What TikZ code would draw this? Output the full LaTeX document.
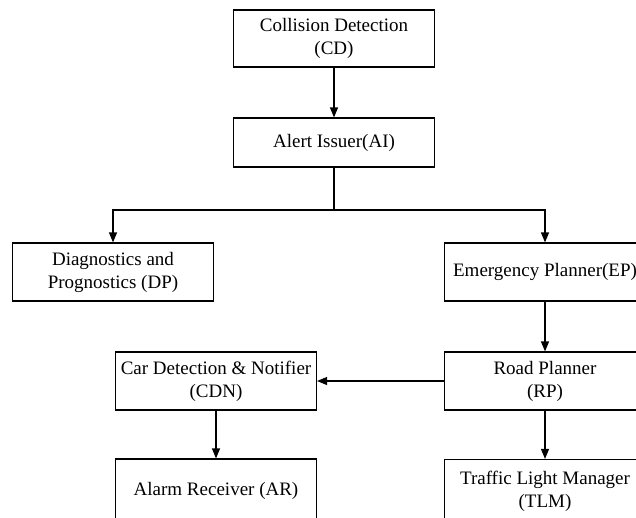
\documentclass[tikz,border=0pt]{standalone}
\usepackage{fontspec}
\setmainfont{Liberation Serif}
\usetikzlibrary{arrows.meta}
\begin{document}
\begin{tikzpicture}[x=1pt,y=-1pt,
  box/.style={draw, line width=1.2pt, minimum width=201pt, minimum height=#1, align=center, inner sep=0pt, font=\fontsize{19}{23}\selectfont},
  box/.default=58pt,
  conn/.style={line width=1.2pt, -{Triangle[length=10pt,width=8pt]}}]
\useasboundingbox (0,0) rectangle (636,517);
\node[box=57pt] (CD) at (334,38.5) {Collision Detection\\(CD)};
\node[box=49pt] (AI) at (334,142.5) {Alert Issuer(AI)};
\node[box] (DP) at (113,272) {Diagnostics and\\Prognostics (DP)};
\node[box] (EP) at (545,272) {Emergency Planner(EP)};
\node[box] (RP) at (545,381) {Road Planner\\(RP)};
\node[box] (CDN) at (216,381) {Car Detection \& Notifier\\(CDN)};
\node[box=64pt] (AR) at (216,491) {Alarm Receiver (AR)};
\node[box=64pt] (TLM) at (545,491.5) {Traffic Light Manager\\(TLM)};
\coordinate (J) at (334,210);
\draw[conn] (CD) -- (AI);
\draw[line width=1.2pt] (AI.south) -- (J);
\draw[conn] (J) -| (DP.north);
\draw[conn] (J) -| (EP.north);
\draw[conn] (EP) -- (RP);
\draw[conn] (RP) -- (CDN);
\draw[conn] (RP) -- (TLM);
\draw[conn] (CDN) -- (AR);
\end{tikzpicture}
\end{document}
